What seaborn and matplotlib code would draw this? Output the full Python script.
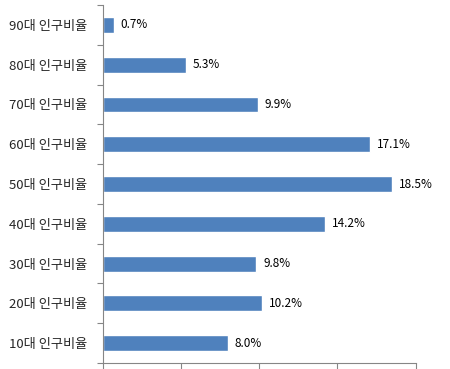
import pandas as pd
import numpy as np
import matplotlib
matplotlib.use('Agg')
import matplotlib.pyplot as plt
import seaborn as sns

sns.set_style('white')
plt.rcParams['font.family'] = ['Noto Sans CJK KR', 'DejaVu Sans']

# data, top to bottom as in the chart
labels = ['90대 인구비율', '80대 인구비율', '70대 인구비율', '60대 인구비율', '50대 인구비율',
          '40대 인구비율', '30대 인구비율', '20대 인구비율', '10대 인구비율']
values = [0.7, 5.3, 9.9, 17.1, 18.5, 14.2, 9.8, 10.2, 8.0]

df = pd.DataFrame({'label': labels, 'value': values})

fig = plt.figure(figsize=(4.5, 3.69), dpi=100)
ax = fig.add_axes([0.228, 0.0163, 0.696, 0.970])

sns.barplot(data=df, x='value', y='label', orient='h', color='#4F81BD',
            saturation=1, width=0.4, ax=ax)

for i, v in enumerate(values):
    ax.text(v + 0.45, i, f'{v:.1f}%', va='center', ha='left', fontsize=8.5, color='black')

ax.set_xlim(0, 20)
ax.set_ylim(8.5, -0.5)
ax.set_xlabel('')
ax.set_ylabel('')

# x ticks without labels
ax.set_xticks(np.arange(0, 21, 5))
ax.set_xticklabels([])
ax.tick_params(axis='x', direction='out', length=4, width=0.8, color='#868686', bottom=True)

# y category labels, tick marks between categories
ax.set_yticks(range(len(labels)))
ax.set_yticklabels(labels, fontsize=9.5)
ax.tick_params(axis='y', which='major', length=0, pad=11)
ax.set_yticks(np.arange(-0.5, len(labels)), minor=True)
ax.tick_params(axis='y', which='minor', direction='out', length=4, width=0.8, color='#868686', left=True)

for s in ['top', 'right']:
    ax.spines[s].set_visible(False)
for s in ['left', 'bottom']:
    ax.spines[s].set_color('#868686')
    ax.spines[s].set_linewidth(0.8)

fig.savefig('out.png', dpi=100)
